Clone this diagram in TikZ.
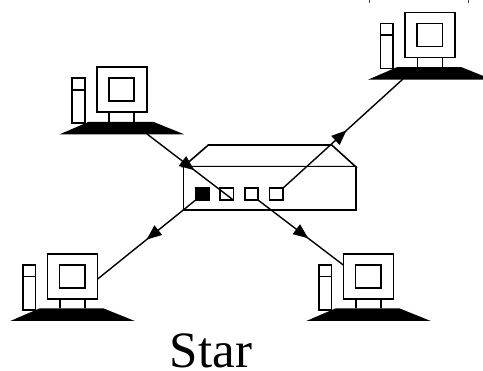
\documentclass[tikz,border=0pt]{standalone}
\usepackage{fontspec}
\setmainfont{Liberation Serif}
\usetikzlibrary{arrows.meta,decorations.markings}

\tikzset{
  outline/.style={draw=black, line width=1.6pt, fill=white},
  edge line/.style={draw=black, line width=1.6pt},
  wire/.style={draw=black, line width=1.4pt},
  flow/.style={postaction={decorate},
    decoration={markings,
      mark=at position #1 with {\arrow{Triangle[length=15pt,width=12pt]}}}},
  port/.style={draw=black, line width=1.6pt, fill=white, minimum width=13.3pt,
    minimum height=11.7pt, inner sep=0pt, outer sep=0pt},
  computer/.pic={
    % monitor and screen
    \draw[outline] (0,0) rectangle (50,45);
    \draw[outline] (12,11) rectangle (37.5,34);
    % monitor stand
    \draw[edge line] (12.5,45) -- (12.5,54.5) (37.5,45) -- (37.5,54.5);
    % tower case
    \draw[outline] (-24.5,11) rectangle (-11.8,56);
    \draw[edge line] (-24.5,22.5) -- (-11.8,22.5);
    % desk base
    \fill[black] (-8,54.5) -- (56.5,54.5) -- (87.5,67) -- (-37,67) -- cycle;
    % attachment points
    \coordinate (-left) at (0,11);
    \coordinate (-right) at (50,25.3);
    \coordinate (-baseL) at (-2,66.3);
    \coordinate (-baseR) at (50.3,66.7);
  }
}

\begin{document}
\begin{tikzpicture}[x=1pt,y=-1pt]
  \useasboundingbox (0,0) rectangle (483,371);
  \fill[white] (0,0) rectangle (483,371);

  % marks along the top edge
  \draw[line width=0.8pt, black!70] (369,0) -- (369,3) (468,0) -- (468,3);

  % workstations
  \pic (pcA) at (96.7,67.3) {computer};
  \pic (pcB) at (405,12.7) {computer};
  \pic (pcC) at (47.3,254) {computer};
  \pic (pcD) at (343.3,254) {computer};

  % hub
  \draw[outline] (183.3,166.7) -- (208.3,145) -- (331.7,145) -- (355.7,166.7) -- cycle;
  \node[draw, line width=1.6pt, fill=white, minimum width=172.4pt, minimum height=43.3pt,
        inner sep=0pt, outer sep=0pt] (hub) at (269.5,188.35) {};
  \node[port, fill=black] (p1) at (202.35,194.15) {};
  \node[port] (p2) at (226.65,194.15) {};
  \node[port] (p3) at (251.35,194.15) {};
  \node[port] (p4) at (276.15,194.15) {};

  % links
  \draw[wire, flow=0.55] (pcA-baseR) -- (p2.south east);
  \draw[wire, flow=0.53] (p4.north east) -- (pcB-baseL);
  \draw[wire, flow=0.59] (p3.south east) -- (pcD-left);
  \draw[wire, flow=0.50] (p1.south west) -- (pcC-right);

  % caption
  \node[anchor=base, font=\fontsize{51}{60}\selectfont, inner sep=0pt] (caption) at (211,367.5) {Star};
\end{tikzpicture}
\end{document}
